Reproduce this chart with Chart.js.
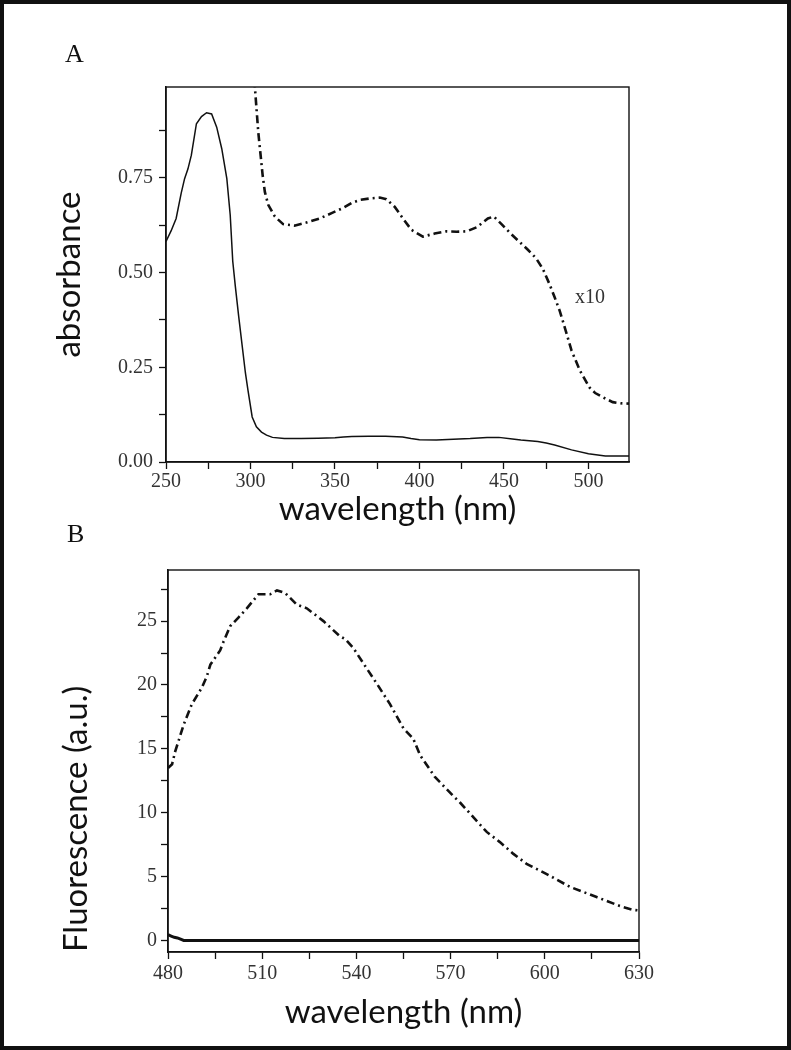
<!DOCTYPE html>
<html>
<head>
<meta charset="utf-8">
<script src="https://cdn.jsdelivr.net/npm/chart.js@4.4.1/dist/chart.umd.min.js"></script>
<style>
  html, body { margin: 0; padding: 0; background: #fff; }
  #page { position: relative; width: 791px; height: 1050px; overflow: hidden; background: #fff; }
  #frame { position: absolute; left: 0; top: 0; width: 791px; height: 1050px; box-sizing: border-box; border: 4px solid #111; pointer-events: none; }
  canvas { position: absolute; left: 0; }
  #chartA { top: 0; }
  #chartB { top: 530px; }
  .panel { position: absolute; font-family: "Liberation Serif", serif; font-size: 26px; line-height: 26px; color: #111; }
</style>
</head>
<body>
<div id="page">
  <canvas id="chartA" width="791" height="530"></canvas>
  <canvas id="chartB" width="791" height="520"></canvas>
  <div class="panel" style="left:65px; top:41px;">A</div>
  <div class="panel" style="left:67px; top:521px;">B</div>
  <div id="frame"></div>
</div>
<script>
// panel A - absorbance, solid trace
const absNm = [250, 253, 256, 259, 261, 263, 265, 268, 271, 274, 277, 280, 283, 286, 288, 289.5, 291, 293, 295, 297,
  298.5, 301, 303.5, 306.5, 309.5, 313, 320, 330, 340, 350, 355, 360, 370, 380, 390, 395, 400, 410, 420, 430,
  440, 447, 455, 460, 470, 475, 480, 490, 500, 510, 524];
const absVal = [0.582, 0.61, 0.643, 0.71, 0.748, 0.774, 0.81, 0.893, 0.912, 0.922, 0.919, 0.884, 0.827, 0.748, 0.652, 0.53, 0.465, 0.385, 0.31, 0.235,
  0.19, 0.119, 0.093, 0.079, 0.071, 0.065, 0.062, 0.062, 0.063, 0.064, 0.066, 0.067, 0.068, 0.068, 0.066, 0.062, 0.059, 0.058, 0.06, 0.062,
  0.065, 0.065, 0.061, 0.058, 0.054, 0.05, 0.045, 0.032, 0.022, 0.016, 0.016];

// panel A - absorbance x10, dash-dot trace
const absX10Nm = [300, 302.6, 304.6, 305.6, 307.2, 308.5, 310.5, 314.4, 319.3, 326, 333, 341, 348, 355, 360, 365, 371, 376.5, 380.4, 385.3,
  390.2, 395.2, 402, 409, 416, 422, 428, 434, 440.5, 444, 449, 454, 459, 464, 469, 473, 477, 480, 483, 486,
  490, 495, 500.6, 504, 508.5, 514.4, 519, 524];
const absX10Val = [1.2, 0.99, 0.871, 0.827, 0.757, 0.713, 0.679, 0.648, 0.628, 0.624, 0.632, 0.643, 0.657, 0.671, 0.684, 0.692, 0.696, 0.698, 0.694, 0.674,
  0.643, 0.613, 0.595, 0.603, 0.609, 0.608, 0.609, 0.62, 0.643, 0.648, 0.626, 0.603, 0.582, 0.561, 0.538, 0.51, 0.469, 0.435, 0.399, 0.355,
  0.294, 0.241, 0.197, 0.182, 0.171, 0.158, 0.155, 0.154];

// panel B - fluorescence, dash-dot trace
const fluoNm = [480, 481.3, 482.3, 485, 487.6, 490.8, 492.4, 493.5, 496.6, 497.7, 499.8, 502.5, 505.1, 508.8, 512.5, 514.7, 517.3, 521, 524.2, 529.5,
  534.8, 536.4, 539, 542.2, 546.5, 550.7, 555, 558.1, 560.3, 565, 570.9, 573, 577.8, 581.5, 585.7, 589.9, 594.2, 600.6, 608, 616.5,
  623.9, 628.1, 630];
const fluoVal = [13.5, 13.8, 14.8, 16.9, 18.5, 19.8, 20.7, 21.6, 22.7, 23.4, 24.6, 25.3, 26.0, 27.1, 27.1, 27.4, 27.2, 26.3, 26.0, 25.0,
  23.8, 23.6, 22.9, 21.7, 20.1, 18.5, 16.6, 15.8, 14.5, 12.8, 11.3, 10.8, 9.5, 8.5, 7.7, 6.8, 6.0, 5.2, 4.2, 3.4,
  2.7, 2.4, 2.35];

// panel B - fluorescence, solid trace (flat)
const fluoFlatNm = [480, 481, 482, 483, 484, 485, 520, 560, 600, 630];
const fluoFlatVal = [0.45, 0.35, 0.25, 0.2, 0.1, 0, 0, 0, 0, 0];

// ticks (empty label = minor tick)
const xTicksA = [250, 275, 300, 325, 350, 375, 400, 425, 450, 475, 500];
const xLabelsA = ['250', '', '300', '', '350', '', '400', '', '450', '', '500'];
const yTicksA = [0, 0.125, 0.25, 0.375, 0.5, 0.625, 0.75, 0.875];
const yLabelsA = ['0.00', '', '0.25', '', '0.50', '', '0.75', ''];
const xTicksB = [480, 495, 510, 525, 540, 555, 570, 585, 600, 615, 630];
const xLabelsB = ['480', '', '510', '', '540', '', '570', '', '600', '', '630'];
const yTicksB = [0, 2.5, 5, 7.5, 10, 12.5, 15, 17.5, 20, 22.5, 25, 27.5];
const yLabelsB = ['0', '', '5', '', '10', '', '15', '', '20', '', '25', ''];

const noteText = 'x10';
const noteNm = 492;
const noteAbs = 0.433;

const INK = '#111';
const TICK_INK = '#333';
const tickFont = { family: '"Liberation Serif", serif', size: 20 };
const titleFont = { family: 'Lato, sans-serif', size: 33 };

function pairs(xs, ys) {
  return xs.map((x, i) => ({ x: x, y: ys[i] }));
}

// box round the plot area
const frame = {
  id: 'frame',
  afterDatasetsDraw(chart) {
    const { ctx, chartArea: a } = chart;
    ctx.save();
    ctx.strokeStyle = INK;
    ctx.lineWidth = 1.4;
    ctx.strokeRect(a.left, a.top, a.right - a.left, a.bottom - a.top);
    ctx.restore();
  }
};

// "x10" note next to the dash-dot trace
const note = {
  id: 'note',
  afterDatasetsDraw(chart) {
    const { ctx, scales } = chart;
    ctx.save();
    ctx.font = '20px "Liberation Serif", serif';
    ctx.fillStyle = TICK_INK;
    ctx.textAlign = 'left';
    ctx.textBaseline = 'middle';
    ctx.fillText(noteText, scales.x.getPixelForValue(noteNm), scales.y.getPixelForValue(noteAbs));
    ctx.restore();
  }
};

const gridOpts = { drawOnChartArea: false, tickLength: 7, tickColor: INK, tickWidth: 1.3 };
const borderOpts = { color: INK, width: 1.5 };

new Chart(document.getElementById('chartA'), {
  type: 'line',
  data: {
    datasets: [
      { data: pairs(absNm, absVal), borderColor: INK, borderWidth: 1.5, pointRadius: 0 },
      { data: pairs(absX10Nm, absX10Val), borderColor: INK, borderWidth: 2.6, borderDash: [8, 4, 2, 4], pointRadius: 0 }
    ]
  },
  options: {
    responsive: false,
    animation: false,
    events: [],
    layout: { padding: { left: 0, top: 87, right: 162, bottom: 1 } },
    plugins: { legend: { display: false }, tooltip: { enabled: false } },
    scales: {
      x: {
        type: 'linear', min: 250, max: 524,
        afterBuildTicks: (s) => { s.ticks = xTicksA.map((v) => ({ value: v })); },
        afterFit: (s) => { s.height = 67; },
        ticks: { callback: (v, i) => xLabelsA[i], autoSkip: false, maxRotation: 0, padding: 1, color: TICK_INK, font: tickFont },
        grid: gridOpts,
        border: borderOpts,
        title: { display: true, text: 'wavelength (nm)', color: INK, font: titleFont, padding: { top: 0, bottom: 0 } }
      },
      y: {
        min: 0, max: 0.99,
        afterBuildTicks: (s) => { s.ticks = yTicksA.map((v) => ({ value: v })); },
        afterFit: (s) => { s.width = 166; },
        ticks: { callback: (v, i) => yLabelsA[i], autoSkip: false, padding: 6, color: TICK_INK, font: tickFont },
        grid: gridOpts,
        border: borderOpts,
        title: { display: true, text: 'absorbance', color: INK, font: titleFont, padding: { top: 50, bottom: 0 } }
      }
    }
  },
  plugins: [frame, note]
});

new Chart(document.getElementById('chartB'), {
  type: 'line',
  data: {
    datasets: [
      { data: pairs(fluoFlatNm, fluoFlatVal), borderColor: INK, borderWidth: 3, pointRadius: 0 },
      { data: pairs(fluoNm, fluoVal), borderColor: INK, borderWidth: 2.6, borderDash: [8, 4, 2, 4], pointRadius: 0 }
    ]
  },
  options: {
    responsive: false,
    animation: false,
    events: [],
    layout: { padding: { left: 0, top: 40, right: 152, bottom: 17 } },
    plugins: { legend: { display: false }, tooltip: { enabled: false } },
    scales: {
      x: {
        type: 'linear', min: 480, max: 630,
        afterBuildTicks: (s) => { s.ticks = xTicksB.map((v) => ({ value: v })); },
        afterFit: (s) => { s.height = 81; },
        ticks: { callback: (v, i) => xLabelsB[i], autoSkip: false, maxRotation: 0, padding: 3, color: TICK_INK, font: tickFont },
        grid: gridOpts,
        border: borderOpts,
        title: { display: true, text: 'wavelength (nm)', color: INK, font: titleFont, padding: { top: 0, bottom: 1 } }
      },
      y: {
        min: -0.9, max: 29,
        afterBuildTicks: (s) => { s.ticks = yTicksB.map((v) => ({ value: v })); },
        afterFit: (s) => { s.width = 168; },
        ticks: { callback: (v, i) => yLabelsB[i], autoSkip: false, padding: 4, color: TICK_INK, font: tickFont },
        grid: gridOpts,
        border: borderOpts,
        title: { display: true, text: 'Fluorescence (a.u.)', align: 'start', color: INK, font: titleFont, padding: { top: 57, bottom: 0 } }
      }
    }
  },
  plugins: [frame]
});
</script>
</body>
</html>
